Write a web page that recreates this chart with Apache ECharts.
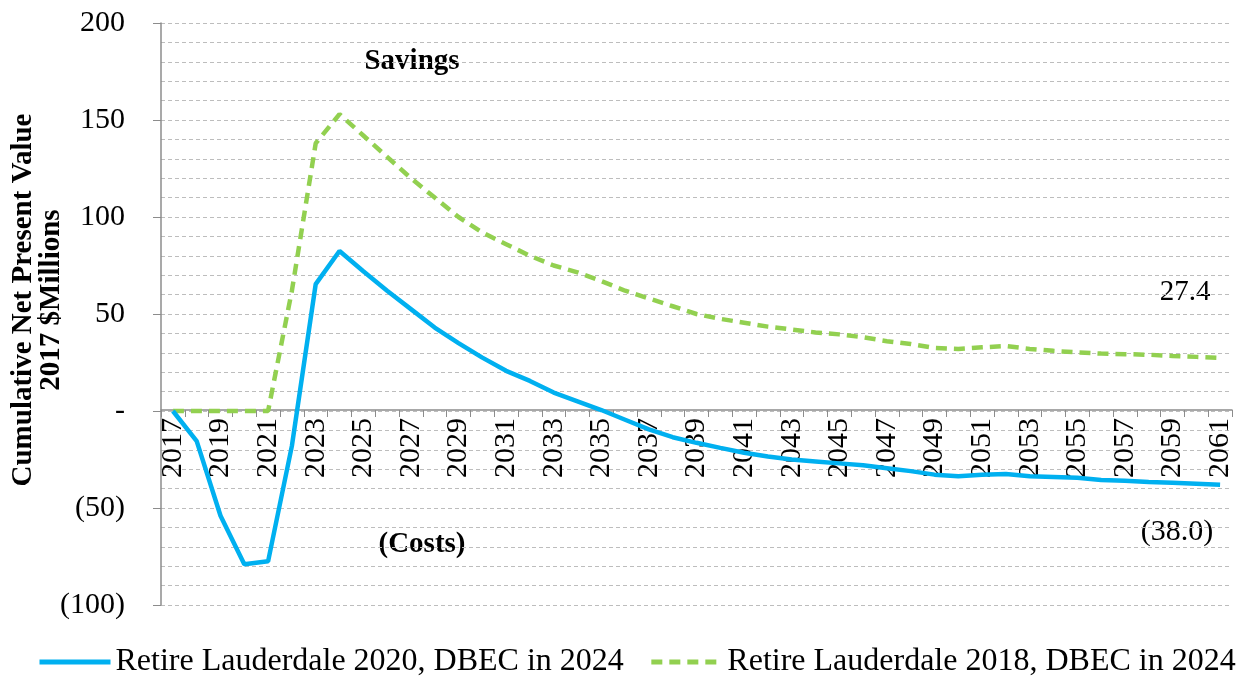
<!DOCTYPE html>
<html>
<head>
<meta charset="utf-8">
<script src="https://cdn.jsdelivr.net/npm/echarts@6/dist/echarts.min.js"></script>
<style>
  html, body { margin: 0; padding: 0; background: #fff; }
  #chart { width: 1241px; height: 679px; }
</style>
</head>
<body>
<div id="chart"></div>
<script>
// years on the x axis
const years = []
for (let y = 2017; y <= 2061; y++) years.push(String(y))

// Retire Lauderdale 2020, DBEC in 2024
const retire2020 = [
  0, -15.5, -54, -79, -77.5, -18, 65.4, 82.5, 72, 62,
  52.5, 43, 35, 27.5, 20.7, 15.5, 9.5, 5, 0.5, -4.5,
  -9.5, -13.5, -16.4, -19, -21.5, -23.5, -25, -26, -27, -28,
  -29.5, -31, -32.8, -33.6, -32.8, -32.5, -33.6, -34, -34.4, -35.6,
  -36, -36.6, -37, -37.5, -38,
]
// Retire Lauderdale 2018, DBEC in 2024
const retire2018 = [
  0, 0, 0, 0, 0, 62, 138, 153, 142, 131,
  120, 110, 100, 92, 86, 80, 75, 71.5, 67, 62,
  58, 54, 50, 47.5, 45.5, 43.5, 42, 40.5, 39.5, 38,
  36, 34.5, 32.5, 32, 32.8, 33.5, 32, 31, 30.2, 29.6,
  29.3, 29, 28.4, 27.9, 27.4,
]

const serif = '"Liberation Serif", "Times New Roman", serif'

const fmtY = (v) => {
  if (v === 0) return '-'
  if (v < 0) return '(' + Math.abs(v) + ')'
  return String(v)
}

const chart = echarts.init(document.getElementById('chart'))
chart.setOption({
  animation: false,
  textStyle: { fontFamily: serif },
  grid: { left: 161, right: 9, top: 23, bottom: 74, outerBoundsMode: 'none' },
  legend: {
    left: 37,
    top: 646,
    width: 1204,
    padding: 0,
    itemWidth: 71,
    itemHeight: 10,
    itemGap: 25,
    itemStyle: { opacity: 0 },
    lineStyle: { width: 5 },
    textStyle: { fontFamily: serif, fontSize: 32, color: '#000' },
    data: ['Retire Lauderdale 2020, DBEC in 2024', 'Retire Lauderdale 2018, DBEC in 2024'],
  },
  xAxis: {
    type: 'category',
    data: years,
    boundaryGap: true,
    position: 'bottom',
    // axis sits on the zero line, 195px above the bottom of the grid
    offset: -195,
    axisLine: { onZero: false, lineStyle: { color: '#8c8c8c', width: 1.5 } },
    axisTick: { show: true, interval: 0, length: 7, lineStyle: { color: '#8c8c8c' } },
    axisLabel: {
      interval: 1,
      rotate: 90,
      margin: 8,
      fontFamily: serif,
      fontSize: 30,
      color: '#000',
    },
    splitLine: { show: false },
  },
  yAxis: {
    type: 'value',
    min: -100,
    max: 200,
    interval: 50,
    name: 'Cumulative Net Present Value\n2017 $Millions',
    nameLocation: 'middle',
    nameRotate: 90,
    nameGap: 95,
    nameMoveOverlap: false,
    nameTextStyle: {
      fontFamily: serif, fontSize: 29, fontWeight: 'bold', color: '#000',
      lineHeight: 28, padding: [0, 0, 0, 28],
    },
    axisLine: { show: true, lineStyle: { color: '#8c8c8c', width: 1.5 } },
    axisTick: { show: true, length: 8, lineStyle: { color: '#8c8c8c' } },
    axisLabel: {
      formatter: fmtY,
      margin: 36,
      fontFamily: serif,
      fontSize: 30,
      color: '#000',
    },
    splitLine: { show: true, lineStyle: { color: '#bdbdbd', type: [4, 3], width: 1 } },
    minorTick: { show: false, splitNumber: 5 },
    minorSplitLine: { show: true, lineStyle: { color: '#bdbdbd', type: [4, 3], width: 1 } },
  },
  series: [
    {
      name: 'Retire Lauderdale 2020, DBEC in 2024',
      type: 'line',
      data: retire2020,
      symbol: 'none',
      lineStyle: { color: '#00b0f0', width: 4.5 },
      itemStyle: { color: '#00b0f0' },
      z: 3,
    },
    {
      name: 'Retire Lauderdale 2018, DBEC in 2024',
      type: 'line',
      data: retire2018,
      symbol: 'none',
      lineStyle: { color: '#92d050', width: 4.5, type: [11, 7] },
      itemStyle: { color: '#92d050' },
      z: 2,
    },
  ],
  graphic: [
    { type: 'text', x: 412, y: 62, style: { text: 'Savings', font: 'bold 29px ' + serif, fill: '#000', align: 'center', verticalAlign: 'middle' } },
    { type: 'text', x: 422, y: 545, style: { text: '(Costs)', font: 'bold 29px ' + serif, fill: '#000', align: 'center', verticalAlign: 'middle' } },
    { type: 'text', x: 1185, y: 292, style: { text: '27.4', font: '29px ' + serif, fill: '#000', align: 'center', verticalAlign: 'middle' } },
    { type: 'text', x: 1177, y: 532, style: { text: '(38.0)', font: '30px ' + serif, fill: '#000', align: 'center', verticalAlign: 'middle' } },
  ],
})
</script>
</body>
</html>
